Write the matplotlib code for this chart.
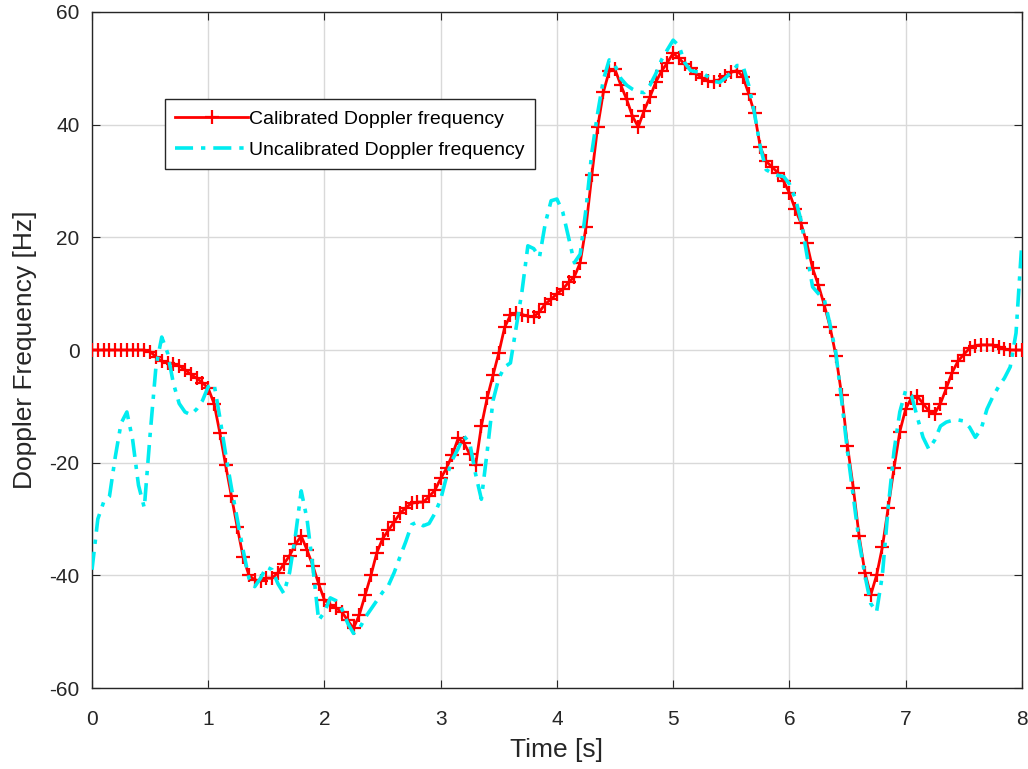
import numpy as np
import matplotlib
matplotlib.use("Agg")
import matplotlib.pyplot as plt

plt.rcParams['font.family'] = ['Liberation Sans', 'DejaVu Sans']
plt.rcParams['axes.unicode_minus'] = False

time_s = np.round(np.arange(0, 8.0001, 0.05), 2)

calibrated = [
    0, 0, 0, 0, 0, 0, 0, 0, 0, 0,
    -0.3, -1.2, -2.0, -2.3, -2.4, -2.8, -3.5, -4.3, -5.0, -5.8,
    -6.8, -9.5, -14.7, -20.5, -26, -31.5, -36.7, -40, -40.8, -41,
    -40.5, -40.5, -39.5, -38, -36.5, -34.5, -33, -35.5, -38.3, -41.5,
    -44.4, -45.2, -45.8, -46.5, -48, -49.4, -47, -43.5, -40, -36,
    -33.5, -32, -30.5, -29, -28, -27.2, -27, -27, -26, -24.9,
    -22.8, -21, -18.6, -15.7, -16.5, -18.5, -20.5, -13.5, -8.5, -4.5,
    -0.5, 4, 6.2, 6.5, 6.3, 6, 5.9, 6.8, 8.2, 9,
    10, 10.8, 12, 13, 15.5, 21.8, 31, 39.5, 45.8, 49.5,
    49.8, 47, 44.5, 41.5, 39.6, 42.5, 44.9, 47.5, 49.5, 51,
    52.7, 51.8, 50.7, 50, 49, 48.3, 47.7, 47.6, 48, 48.6,
    49.3, 49.6, 48.5, 45.5, 42, 36, 33.5, 32.5, 31.5, 30,
    27.9, 25, 22.5, 19, 14.5, 11.5, 8, 4.1, -1, -8,
    -17, -24.5, -33, -39.5, -43.5, -40, -35, -28, -21, -14.5,
    -10.5, -8.5, -8.2, -9.5, -10.8, -11.3, -9.5, -6.8, -4, -2,
    -0.8, 0.3, 0.8, 0.9, 0.9, 0.9, 0.6, 0.2, 0, 0,
    0,
]

uncalibrated = [
    -39, -30, -27, -26, -19, -13, -11, -16, -24, -28,
    -15, -3, 2.3, -0.5, -5.9, -9.5, -11, -11.5, -10.5, -9,
    -6.5, -6, -12, -18.5, -24.5, -30, -35.5, -40.5, -42, -40.5,
    -38.5, -39, -41.5, -43.2, -39.5, -33, -25, -30, -38.5, -48,
    -46.5, -44, -44.5, -46, -48.5, -50.3, -49.5, -47.5, -46, -44.5,
    -43, -41.8, -39.5, -36.7, -34, -31, -30.5, -31.2, -30.8, -29,
    -26.5, -22.5, -19.5, -17.5, -15.3, -16.5, -22, -26.5, -18, -9,
    -5, -3, -2.3, 4.1, 10.5, 18.5, 18, 16.5, 22.5, 26.5,
    26.8, 24.5, 20, 15.5, 17, 25, 35, 42, 48, 51.5,
    50.5, 48.2, 47, 46.3, 45.8, 45.7, 47, 49, 51.5, 53.3,
    55, 54, 51, 49.6, 49.4, 49.2, 48.5, 47.7, 47.5, 48.3,
    49.3, 50.5, 50.5, 47, 42, 36, 32, 31.4, 31, 30.8,
    29.5, 27, 23, 17, 11.2, 10, 9, 4.5, -0.5, -9,
    -18, -26, -34, -40, -45, -46.5, -40, -28, -18, -11,
    -7.2, -8, -11.9, -15.5, -17.6, -16, -13.5, -12.8, -12.5, -12.4,
    -12.6, -13.7, -15.5, -14, -10.5, -8.3, -6.5, -5, -3, 3,
    19,
]

x_ticks = [0, 1, 2, 3, 4, 5, 6, 7, 8]
y_ticks = [-60, -40, -20, 0, 20, 40, 60]
labels = ["Calibrated Doppler frequency", "Uncalibrated Doppler frequency"]

fig = plt.figure(figsize=(10.28, 7.69), dpi=100)
ax = fig.add_axes([0.0895, 0.1053, 0.9045, 0.8791])

ax.plot(time_s, calibrated, color='#ff0000', lw=2, marker='+', ms=10, mew=1.6,
        label=labels[0], zorder=3)
ax.plot(time_s, uncalibrated, color='#00ecf0', lw=2.6, linestyle=(0, (5, 2.2, 1.2, 2.2)),
        label=labels[1], zorder=4)

ax.set_xlim(0, 8)
ax.set_ylim(-60, 60)
ax.set_xticks(x_ticks)
ax.set_yticks(y_ticks)
ax.grid(True, color='#d9d9d9', lw=1)
ax.set_axisbelow(True)
ax.tick_params(direction='in', length=6, labelsize=15, colors='#262626', top=True, right=True,
               labeltop=False, labelright=False)
ax.tick_params(axis='x', pad=16)
ax.tick_params(axis='y', pad=9)
for s in ax.spines.values():
    s.set_color('#262626')
    s.set_linewidth(1)

ax.set_xlabel("Time [s]", fontsize=19, color='#262626', labelpad=6)
ax.set_ylabel("Doppler Frequency [Hz]", fontsize=19, color='#262626', labelpad=9)

leg = ax.legend(loc='upper left', bbox_to_anchor=(0.078, 0.871), fontsize=14,
                handlelength=3.75, handletextpad=0.05, borderpad=0.55, labelspacing=0.7,
                borderaxespad=0, fancybox=False, edgecolor='#262626', framealpha=1)
leg.get_frame().set_linewidth(1)

fig.savefig("out.png", dpi=100)
